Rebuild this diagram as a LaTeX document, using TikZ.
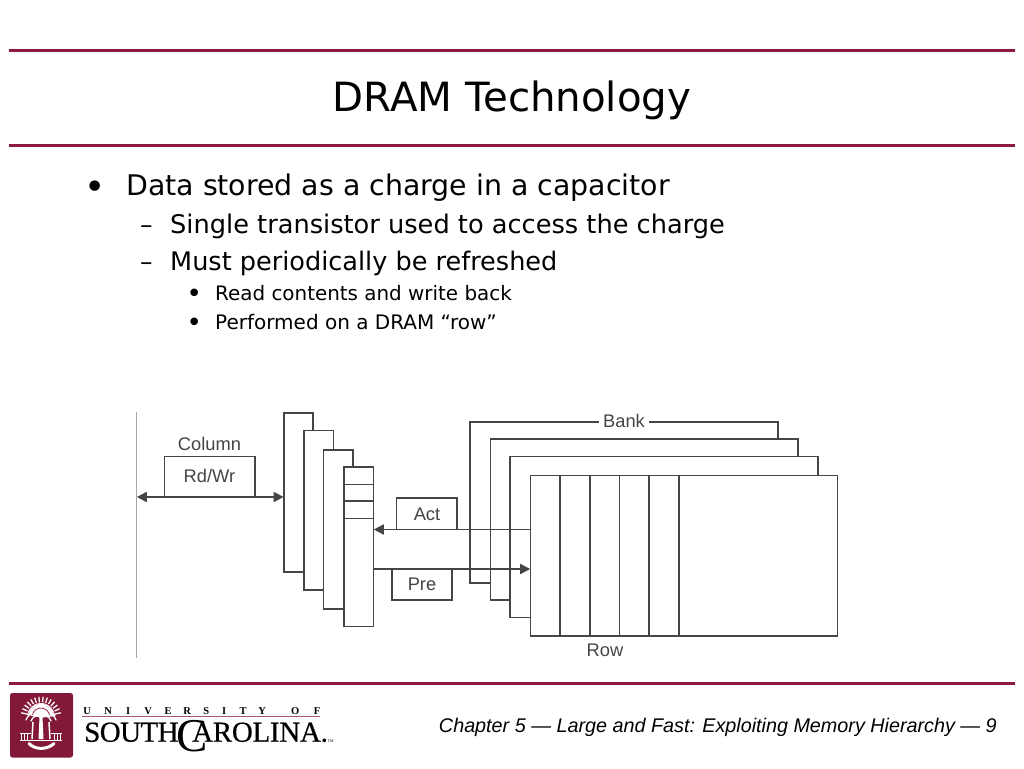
\documentclass[tikz,border=0pt]{standalone}
\usepackage{fontspec}
\setmainfont{DejaVu Sans}
\newfontfamily\figfont{Liberation Sans}
\newfontfamily\logofont{Liberation Serif}
\usetikzlibrary{arrows.meta}
\definecolor{garnet}{HTML}{8E1B3E}
\definecolor{inkline}{HTML}{454545}
\newcommand{\ul}[1]{\makebox[0pt]{#1}}
\tikzset{
  rulebar/.style={draw=garnet,line width=3pt},
  slidetext/.style={anchor=base west,inner sep=0pt,text=black},
  figbox/.style={draw=inkline,line width=1.7pt,fill=white,outer sep=0pt,inner sep=0pt,anchor=north west},
  figlabel/.style={font=\figfont\fontsize{18.3}{18.3}\selectfont,text=inkline,inner sep=0pt},
  figline/.style={draw=inkline,line width=1.7pt},
  tip/.style={-{Triangle[length=10pt,width=10pt]}},
  frond/.style={draw=white,line width=1.3pt,line cap=round},
}
\begin{document}
\begin{tikzpicture}[x=1pt,y=-1pt]
\useasboundingbox (0,0) rectangle (1024,768);
% rules
\coordinate (r1a) at (9,51); \coordinate (r1b) at (1015,51);
\coordinate (r2a) at (9,145); \coordinate (r2b) at (1015,145);
\coordinate (r3a) at (9,683); \coordinate (r3b) at (1015,683);
\draw[rulebar] (r1a) -- (r1b);
\draw[rulebar] (r2a) -- (r2b);
\draw[rulebar] (r3a) -- (r3b);
% title and bullets
\node[slidetext,anchor=base] (title) at (512,111.5) {\fontsize{40.3}{40}\selectfont DRAM Technology};
\node[slidetext,anchor=base] (b1m) at (94.8,199.3) {\fontsize{36}{36}\selectfont •};
\node[slidetext] (b1) at (126,195) {\fontsize{28.4}{28}\selectfont Data stored as a charge in a capacitor};
\node[slidetext] (b2m) at (140,233) {\fontsize{25}{25}\selectfont –};
\node[slidetext] (b2) at (170,233) {\fontsize{25.65}{25}\selectfont Single transistor used to access the charge};
\node[slidetext] (b3m) at (140,270) {\fontsize{25}{25}\selectfont –};
\node[slidetext] (b3) at (170,270) {\fontsize{25.55}{25}\selectfont Must periodically be refreshed};
\node[slidetext,anchor=base] (b4m) at (194.3,302.6) {\fontsize{26}{26}\selectfont •};
\node[slidetext] (b4) at (215,300) {\fontsize{19.9}{20}\selectfont Read contents and write back};
\node[slidetext,anchor=base] (b5m) at (194.3,331.6) {\fontsize{26}{26}\selectfont •};
\node[slidetext] (b5) at (215,329) {\fontsize{20}{20}\selectfont Performed on a DRAM “row”};
% left rail
\coordinate (railtop) at (136.5,412); \coordinate (railbot) at (136.5,658);
\draw[draw=black!35,line width=0.8pt] (railtop) -- (railbot);
\coordinate (railarrow) at (136.8,497);
% column stack
\draw[figbox] (284,413) rectangle (313,572);
\draw[figbox] (304,430.5) rectangle (333.5,590);
\draw[figbox] (323.5,450) rectangle (353,609);
\node[figbox,minimum width=29.5pt,minimum height=159.5pt] (stack) at (344,467) {};
\coordinate (d1a) at (344,484.5); \coordinate (d1b) at (373.5,484.5);
\coordinate (d2a) at (344,501); \coordinate (d2b) at (373.5,501);
\coordinate (d3a) at (344,518.5); \coordinate (d3b) at (373.5,518.5);
\draw[figline] (d1a) -- (d1b);
\draw[figline] (d2a) -- (d2b);
\draw[figline] (d3a) -- (d3b);
\coordinate (stackback) at (283.6,497);
% Rd/Wr
\node[figbox,minimum width=90.5pt,minimum height=40.5pt] (rdwr) at (164.5,456.5) {};
\node[figlabel] (rdwrt) at (209.5,476) {Rd/Wr};
\node[figlabel] (column) at (209.5,444) {Column};
\draw[figline,{Triangle[length=10pt,width=10pt]}-{Triangle[length=10pt,width=10pt]}] (railarrow) -- (stackback);
% banks
\draw[figbox] (470,422) rectangle (777.7,583);
\draw[figbox] (490.5,439) rectangle (798,600);
\draw[figbox] (510,456.5) rectangle (818,617.5);
\node[figbox,minimum width=307pt,minimum height=160.5pt] (main) at (530.5,475.5) {};
\coordinate (c1t) at (560,475.5); \coordinate (c1b) at (560,636);
\coordinate (c2t) at (590,475.5); \coordinate (c2b) at (590,636);
\coordinate (c3t) at (619.5,475.5); \coordinate (c3b) at (619.5,636);
\coordinate (c4t) at (649,475.5); \coordinate (c4b) at (649,636);
\coordinate (c5t) at (679,475.5); \coordinate (c5b) at (679,636);
\draw[figline] (c1t) -- (c1b);
\draw[figline] (c2t) -- (c2b);
\draw[figline] (c3t) -- (c3b);
\draw[figline] (c4t) -- (c4b);
\draw[figline] (c5t) -- (c5b);
\node[figlabel,fill=white,inner xsep=4pt,inner ysep=1pt] (bank) at (624,421) {Bank};
\node[figlabel] (row) at (605,650) {Row};
% Act / Pre
\node[figbox,minimum width=60.5pt,minimum height=31.5pt] (act) at (396.5,498) {};
\node[figlabel] (actt) at (427,514) {Act};
\node[figbox,minimum width=60pt,minimum height=31pt] (pre) at (392,569) {};
\node[figlabel] (pret) at (422,584.5) {Pre};
\coordinate (actr) at (530.5,529.5); \coordinate (actl) at (373.8,529.5);
\coordinate (prel) at (373.5,569); \coordinate (prer) at (530.2,569);
\draw[figline,tip] (actr) -- (actl);
\draw[figline,tip] (prel) -- (prer);
% footer
\node[anchor=base east,inner sep=0pt] (foot) at (997,732) {\figfont\itshape\fontsize{19.77}{19.2}\selectfont Chapter 5 — Large and Fast: Exploiting Memory Hierarchy — 9};
% logo
\fill[garnet!92!black,rounded corners=2.5pt] (10,693) rectangle (73,757.5);
\foreach \a in {-78,-66,...,78}{
  \draw[frond] (41,717) -- ++(\a-90:20);
  \draw[frond] (41,717) -- ++(\a-84:14);
}
\foreach \s in {-1,1}{
  \draw[frond] (41,717) .. controls (41+\s*8,711) and (41+\s*12,713) .. (41+\s*15,720);
  \draw[frond] (41,717) .. controls (41+\s*5,715) and (41+\s*8,716) .. (41+\s*10,721);
}
\draw[draw=garnet,line width=.7pt] (41,717) ++(-165:9) arc[start angle=-165,end angle=-15,radius=9];
\draw[draw=garnet,line width=.7pt] (41,717) ++(-165:14.5) arc[start angle=-165,end angle=-15,radius=14.5];
% trunk and gate
\fill[white] (39.5,717) -- (42.5,717) -- (43.5,739) -- (38.5,739) -- cycle;
\draw[draw=white,line width=1.5pt] (33,722) -- (32,739) (49,722) -- (50,739);
\foreach \xx in {21,24,27,54,57,60}{\draw[draw=white,line width=.8pt] (\xx,733) -- (\xx,740);}
\draw[draw=white,line width=1pt] (20,733) -- (31,733) (51,733) -- (62,733) (20,740) -- (62,740);
\draw[draw=white,line width=3pt,line cap=round] (29,743.5) .. controls (35,750) and (47,750) .. (54,743.5);
% wordmark
\node[anchor=base west,inner sep=0pt,font=\logofont\bfseries\fontsize{10.5}{10.5}\selectfont] (uni) at (87,714) {\ul{U}\hspace{21pt}\ul{N}\hspace{20pt}\ul{I}\hspace{20pt}\ul{V}\hspace{20pt}\ul{E}\hspace{19pt}\ul{R}\hspace{19pt}\ul{S}\hspace{18pt}\ul{I}\hspace{19pt}\ul{T}\hspace{19pt}\ul{Y}\hspace{33pt}\ul{O}\hspace{22pt}\ul{F}};
\coordinate (ulinea) at (82,716.8); \coordinate (ulineb) at (320,716.8);
\draw[draw=garnet!75,line width=1.1pt] (ulinea) -- (ulineb);
\node[anchor=base west,inner sep=0pt,font=\logofont\fontsize{29}{29}\selectfont] (sc) at (84,741.7) {\addfontfeature{FakeBold=0.5,LetterSpace=-2}SOUTH};
\node[anchor=base west,inner sep=0pt,font=\logofont\fontsize{47}{47}\selectfont] (cc) at (176,751) {C};
\node[anchor=base west,inner sep=0pt,font=\logofont\fontsize{29}{29}\selectfont] (aro) at (192,741.7) {\addfontfeature{FakeBold=0.5,LetterSpace=-1}AROLINA.};
\node[anchor=base west,inner sep=0pt,font=\logofont\fontsize{4}{4}\selectfont] (tm) at (327.5,742.5) {TM};
\end{tikzpicture}
\end{document}
